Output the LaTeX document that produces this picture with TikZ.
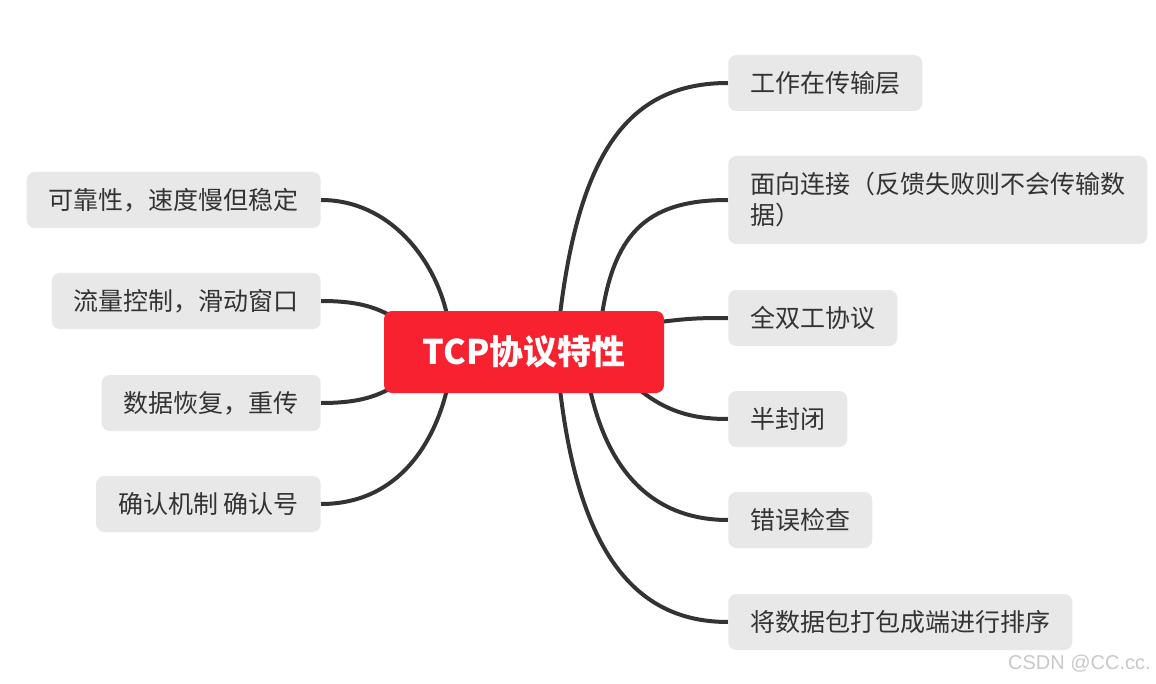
\documentclass[tikz,border=0pt]{standalone}
\usepackage{fontspec}
\newfontfamily\cjk{Noto Sans CJK SC}
\newfontfamily\wmfont{Liberation Sans}
\usetikzlibrary{calc,backgrounds}
\definecolor{txt}{RGB}{51,51,51}
\definecolor{boxfill}{RGB}{232,232,232}
\definecolor{mainred}{RGB}{247,33,47}
\definecolor{wm}{RGB}{200,200,200}
\tikzset{
  leaf/.style={fill=boxfill, rounded corners=6pt, text=txt, inner xsep=16.5pt, inner ysep=0pt,
    minimum height=42pt, align=left, font=\cjk\fontsize{18.75pt}{23.25pt}\selectfont},
  root/.style={fill=mainred, rounded corners=6pt, text=white, minimum width=210pt, minimum height=61.5pt,
    inner sep=0pt, font=\cjk\bfseries\fontsize{25.5pt}{30pt}\selectfont},
  link/.style={draw=txt, line width=3pt}
}
\begin{document}
\begin{tikzpicture}[x=0.75pt,y=-0.75pt]
\useasboundingbox (0,0) rectangle (1156,684);
\node[root] (c) at (524,352) {TCP协议特性};
% right
\node[leaf, anchor=west] (r1) at (728,83) {工作在传输层};
\node[leaf, anchor=west, minimum height=66pt] (r2) at (728,200) {面向连接（反馈失败则不会传输数\\据）};
\node[leaf, anchor=west] (r3) at (728,318) {全双工协议};
\node[leaf, anchor=west] (r4) at (728,419) {半封闭};
\node[leaf, anchor=west] (r5) at (728,520) {错误检查};
\node[leaf, anchor=west] (r6) at (728,622) {将数据包打包成端进行排序};
% left
\node[leaf, anchor=east] (l1) at (321,200) {可靠性，速度慢但稳定};
\node[leaf, anchor=east] (l2) at (321,301) {流量控制，滑动窗口};
\node[leaf, anchor=east] (l3) at (321,403) {数据恢复，重传};
\node[leaf, anchor=east] (l4) at (321,504) {确认机制 确认号};
\node[text=wm, font=\wmfont\fontsize{15pt}{18pt}\selectfont, anchor=east, inner sep=0pt] (wmk) at (1151,664) {CSDN @CC.cc.};
\begin{scope}[on background layer]
\draw[link] ($(c.north)+(36,4)$) .. controls (580,150) and (630,83) .. (r1.west);
\draw[link] ($(c.north)+(78,4)$) .. controls (615,230) and (650,200) .. (r2.west);
\draw[link] ($(c.east)+(-4,-30)$) .. controls (690,318) and (705,318) .. (r3.west);
\draw[link] ($(c.south)+(115,-4)$) .. controls (670,415) and (700,419) .. (r4.west);
\draw[link] ($(c.south)+(66,-4)$) .. controls (610,480) and (660,520) .. (r5.west);
\draw[link] ($(c.south)+(36,-4)$) .. controls (580,560) and (640,622) .. (r6.west);
\draw[link] (l1.east) .. controls (390,200) and (435,260) .. ($(c.north)+(-77,4)$);
\draw[link] (l2.east) .. controls (355,301) and (375,306) .. ($(c.north west)+(12,8)$);
\draw[link] (l3.east) .. controls (355,403) and (375,398) .. ($(c.south west)+(12,-8)$);
\draw[link] (l4.east) .. controls (400,504) and (435,440) .. ($(c.south)+(-77,-4)$);
\end{scope}
\end{tikzpicture}
\end{document}
